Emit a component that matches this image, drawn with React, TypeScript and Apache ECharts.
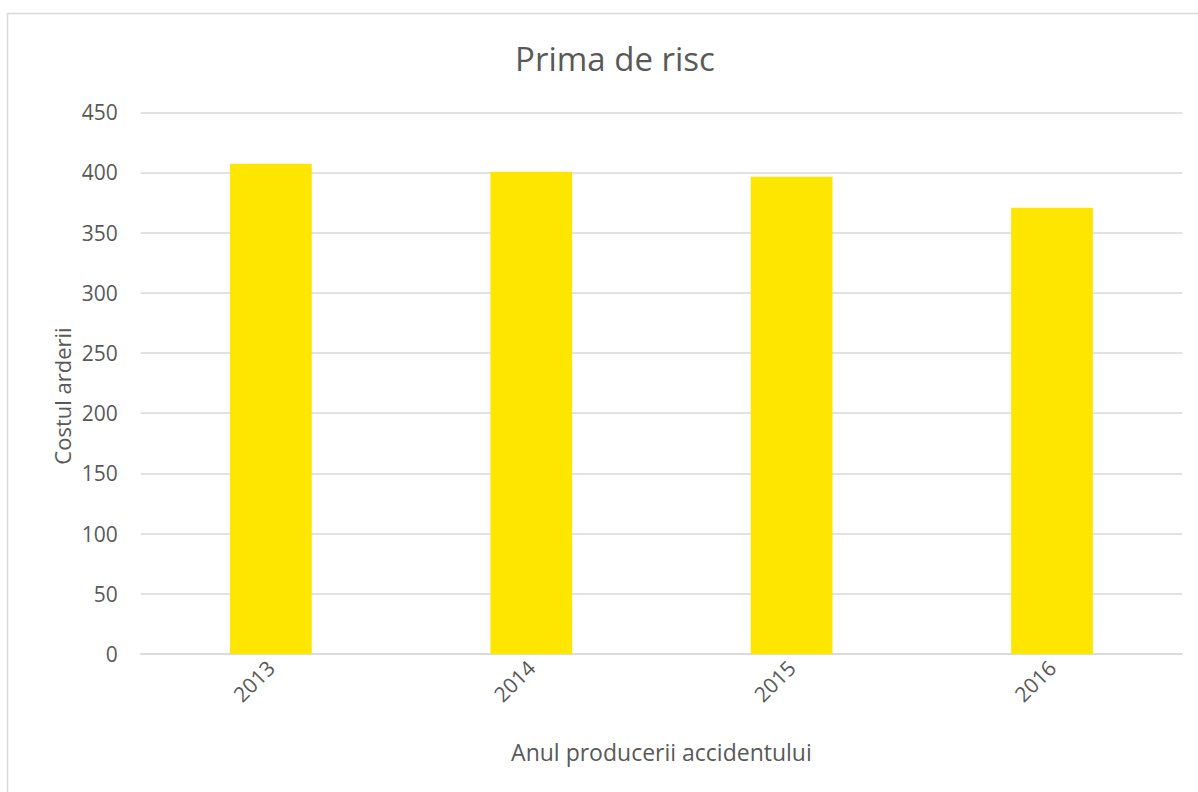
import React, { useEffect, useRef } from "react";
import * as echarts from "echarts";

const chartTitle = "Prima de risc";
const xAxisTitle = "Anul producerii accidentului";
const yAxisTitle = "Costul arderii";
const categories = ["2013", "2014", "2015", "2016"];
const values = [407.3, 400.6, 396.5, 370.8];
const yMin = 0;
const yMax = 450;
const yInterval = 50;

const FONT = "'Open Sans', 'Noto Sans', sans-serif";
const TEXT = "#595959";
const GRID = "#d9d9d9";

export default function App() {
  const ref = useRef<HTMLDivElement>(null);
  useEffect(() => {
    if (!ref.current) return;
    const chart = echarts.init(ref.current, undefined, { renderer: "svg" });
    chart.setOption({
      animation: false,
      backgroundColor: "#ffffff",
      textStyle: { fontFamily: FONT },
      title: {
        text: chartTitle,
        left: 610,
        top: 37,
        textAlign: "center",
        textStyle: { fontFamily: FONT, fontSize: 33, fontWeight: "normal", color: TEXT },
      },
      graphic: [
        {
          type: "rect",
          shape: { x: 7.5, y: 13.5, width: 1400, height: 1000 },
          style: { fill: "none", stroke: GRID, lineWidth: 1.5 },
          silent: true,
        },
        {
          type: "text",
          x: 62,
          y: 396,
          rotation: Math.PI / 2,
          style: {
            text: yAxisTitle,
            fontFamily: FONT,
            fontSize: 22,
            fill: TEXT,
            align: "center",
            verticalAlign: "middle",
          },
          silent: true,
        },
      ],
      grid: { left: 140.7, right: 1198 - 1182.2, top: 112.3, bottom: 792 - 654, containLabel: false },
      xAxis: {
        type: "category",
        data: categories,
        name: xAxisTitle,
        nameLocation: "middle",
        nameGap: 86,
        nameTextStyle: { fontFamily: FONT, fontSize: 23, color: TEXT },
        axisLine: { show: true, lineStyle: { color: GRID, width: 1.5 } },
        axisTick: { show: false },
        axisLabel: { rotate: 45, margin: 10, fontFamily: FONT, fontSize: 21, color: TEXT },
      },
      yAxis: {
        type: "value",
        min: yMin,
        max: yMax,
        interval: yInterval,
        axisLine: { show: false },
        axisTick: { show: false },
        splitLine: { lineStyle: { color: GRID, width: 1.5 } },
        axisLabel: { margin: 23, fontFamily: FONT, fontSize: 21, color: TEXT },
      },
      series: [
        {
          type: "bar",
          data: values,
          barWidth: "31.4%",
          itemStyle: { color: "#FFE600" },
        },
      ],
    });
    return () => chart.dispose();
  }, []);
  return (
    <div
      ref={ref}
      style={{ position: "fixed", left: 0, top: 0, width: 1198, height: 792 }}
    />
  );
}
